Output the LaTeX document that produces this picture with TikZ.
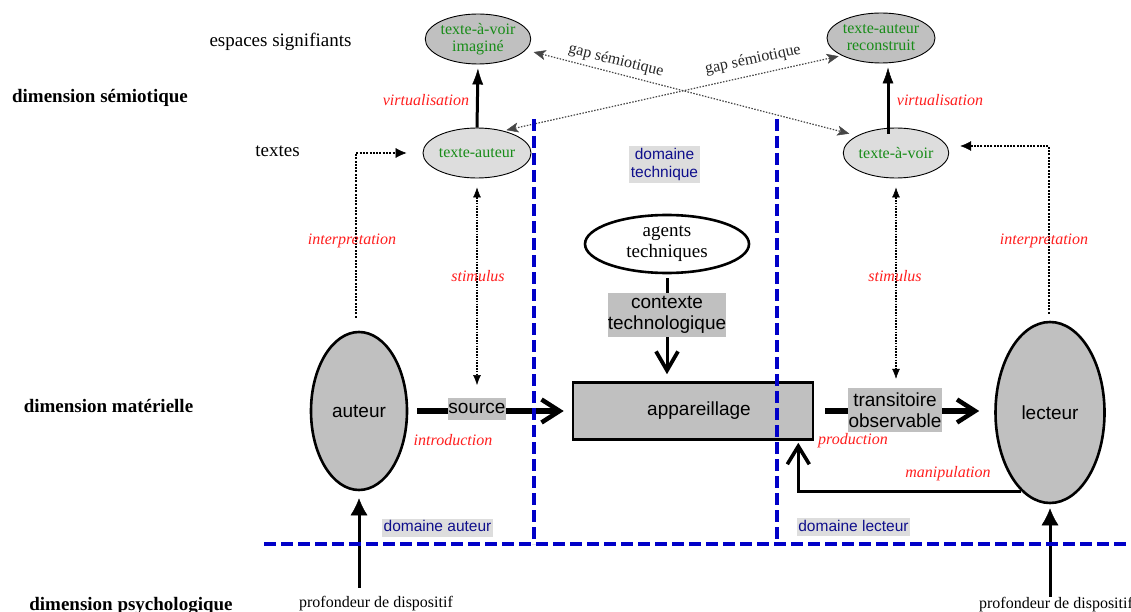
\documentclass[tikz,border=0pt]{standalone}
\usepackage{fontspec}
\setmainfont{Liberation Serif}
\setsansfont{Liberation Sans}
\usetikzlibrary{arrows.meta,shapes.geometric,calc}
\definecolor{fillA}{RGB}{192,192,192}
\definecolor{fillB}{RGB}{221,221,221}
\definecolor{txtgreen}{RGB}{24,140,24}
\definecolor{lblred}{RGB}{255,30,30}
\definecolor{dashblue}{RGB}{0,0,200}
\definecolor{navytext}{RGB}{15,15,140}
\definecolor{boxgray}{RGB}{221,221,221}
\definecolor{gapgray}{RGB}{70,70,70}
\begin{document}
\begin{tikzpicture}[x=1pt,y=-1pt,
 dimlabel/.style={font=\bfseries\fontsize{19}{22}\selectfont,inner sep=0,anchor=base},
 plainlabel/.style={font=\fontsize{19}{22}\selectfont,inner sep=0,anchor=base},
 proflabel/.style={font=\fontsize{16}{18}\selectfont,inner sep=0,anchor=base},
 redlabel/.style={font=\itshape\fontsize{16}{18}\selectfont,text=lblred,inner sep=0},
 gaplabel/.style={font=\fontsize{16}{18}\selectfont,text=black!85,inner sep=0},
 semA/.style={ellipse,draw,line width=0.9pt,fill=fillA,inner sep=0,minimum width=96pt,minimum height=50pt,font=\fontsize{16}{17}\selectfont,text=txtgreen,align=center},
 semB/.style={semA,fill=fillB},
 actor/.style={ellipse,draw,line width=2.6pt,fill=fillA,inner sep=0,font=\sffamily\fontsize{19}{21}\selectfont},
 graybox/.style={fill=fillA,inner sep=0,font=\sffamily\fontsize{19}{21}\selectfont,align=center},
 domlbl/.style={fill=boxgray,text=navytext,inner xsep=1.5pt,inner ysep=1.5pt,font=\sffamily\fontsize{15.5}{18}\selectfont,align=center,text height=11.5pt,text depth=3.5pt},
 domline/.style={color=dashblue,line width=3.5pt,dash pattern=on 12pt off 5pt},
 virtarrow/.style={line width=3pt,-{Latex[length=16pt,width=11pt,line width=0.5pt]}},
 profarrow/.style={line width=3pt,-{Latex[length=17pt,width=17pt,line width=0.5pt]}},
 bigarrow/.style={line width=5.5pt,-{Straight Barb[length=18pt,width=23pt,line width=4.5pt]}},
 medarrow/.style={line width=3pt,-{Straight Barb[length=19pt,width=22pt,line width=3.8pt]}},
 maniparrow/.style={line width=2.6pt,-{Straight Barb[length=18pt,width=22pt,line width=3.6pt]}},
 interparrow/.style={line width=2pt,dash pattern=on 2pt off 1.3pt,-{Latex[length=11pt,width=10pt,line width=0.5pt]}},
 stimarrow/.style={line width=1.6pt,dash pattern=on 1.6pt off 1.2pt,{Latex[length=10pt,width=8pt,line width=0.5pt]}-{Latex[length=10pt,width=8pt,line width=0.5pt]}},
 gaparrow/.style={color=gapgray,line width=1.2pt,dash pattern=on 1.5pt off 1.5pt,{Stealth[length=12pt,width=10pt,inset=3pt,line width=0.5pt]}-{Stealth[length=12pt,width=10pt,inset=3pt,line width=0.5pt]}}
]
\useasboundingbox (0,0) rectangle (1131,612);

% left labels
\node[dimlabel] (dimSem) at (100,103) {dimension sémiotique};
\node[dimlabel] (dimMat) at (108.5,412) {dimension matérielle};
\node[dimlabel] (dimPsy) at (131,610) {dimension psychologique};
\node[plainlabel] (espaces) at (280.5,47) {espaces signifiants};
\node[plainlabel] (textes) at (277.5,157) {textes};

% semiotic nodes
\node[semA] (imagine) at (478,39) {texte-à-voir\\imaginé};
\node[semA,minimum width=95pt] (reconstruit) at (881,38) {texte-auteur\\reconstruit};
\node[semB,minimum width=98pt] (texteAuteur) at (477,153) {texte-auteur};
\node[semB] (texteVoir) at (896,153) {texte-à-voir};

% actors
\node[actor,minimum width=96pt,minimum height=158pt] (auteur) at (359,411) {auteur};
\node[actor,minimum width=109pt,minimum height=181pt] (lecteur) at (1050,412.5) {lecteur};

% technical domain
\node[rectangle,draw,line width=2.6pt,fill=fillA,minimum width=240pt,minimum height=57pt,inner sep=0,font=\sffamily\fontsize{19}{21}\selectfont] (appareillage) at (693,411) {\hspace*{12pt}appareillage};
\node[ellipse,draw,line width=2.6pt,fill=white,minimum width=164pt,minimum height=58pt,inner sep=0,align=center,font=\fontsize{19}{21}\selectfont] (agents) at (667,244) {agents\\techniques};
\node[graybox,minimum width=118pt,minimum height=44pt] (contexte) at (667,315) {contexte\\technologique};

% connectors semiotic
\draw[virtarrow,shorten >=4pt] (texteAuteur.north) -- (imagine.south);
\draw[virtarrow,shorten <=-6pt,shorten >=4pt] ([xshift=-8pt]texteVoir.north) -- ([xshift=-8pt]texteVoir.north |- reconstruit.south);
\draw[gaparrow,shorten <=8pt,shorten >=8pt] (imagine.-13) -- (texteVoir.156);
\draw[gaparrow,shorten <=3pt,shorten >=3pt] (texteAuteur.40) -- (reconstruit.204);
\node[gaplabel,rotate=-14] (gap1) at (616,61) {gap sémiotique};
\node[gaplabel,rotate=12] (gap2) at (753,60) {gap sémiotique};

% interpretation
\draw[interparrow,shorten >=16pt] ([shift={(-3,-13)}]auteur.north) |- (texteAuteur.west);
\draw[interparrow,shorten >=11pt] ([shift={(-1,-7)}]lecteur.north) |- ([yshift=7pt]texteVoir.east);

% main arrows
\draw[bigarrow,shorten <=9pt,shorten >=8pt] (auteur.east) -- (auteur.east -| appareillage.west);
\node[graybox,text height=14pt,text depth=4.5pt,inner ysep=1.5pt,inner xsep=0.5pt] (source) at (477,409) {source};
\draw[bigarrow,shorten <=11pt,shorten >=15pt] (appareillage.east) -- (appareillage.east -| lecteur.west);
\node[graybox,minimum width=94pt,minimum height=44pt] (transitoire) at (895,410) {transitoire\\observable};

\draw[line width=3pt,shorten <=4pt] (agents.south) -- (contexte.north);
\draw[medarrow,shorten >=7pt] (contexte.south) -- (contexte.south |- appareillage.north);
\draw[maniparrow,shorten >=2pt] (lecteur.250) -| ([xshift=-16pt]appareillage.south east);

% stimulus
\draw[stimarrow,shorten <=9pt,shorten >=13pt] (texteAuteur.south) -- (texteAuteur.south |- source.north);
\draw[stimarrow,shorten <=9pt,shorten >=9pt] (texteVoir.south) -- (texteVoir.south |- transitoire.north);

% profondeur
\node[proflabel] (profL) at (376,607) {profondeur de dispositif};
\node[proflabel] (profR) at (1056,608) {profondeur de dispositif};
\draw[profarrow,shorten <=8pt,shorten >=7pt] (profL.north -| auteur.south) -- (auteur.south);
\draw[profarrow,shorten >=4pt] (profR.north -| lecteur.south) -- (lecteur.south);

% red labels
\node[redlabel] (virtL) at (426,100) {virtualisation};
\node[redlabel] (virtR) at (940,100) {virtualisation};
\node[redlabel] (interpL) at (352,241) {interpretation};
\node[redlabel] (interpR) at (1044,241) {interpretation};
\node[redlabel] (stimL) at (478,276) {stimulus};
\node[redlabel] (stimR) at (895,276) {stimulus};
\node[redlabel] (introL) at (453,440) {introduction};
\node[redlabel] (prodL) at (853,441) {production};
\node[redlabel] (manipL) at (948,474) {manipulation};

% domain labels
\node[domlbl,text height=,text depth=,minimum height=37pt] (domTech) at (664.5,164.5) {domaine\\technique};
\node[domlbl] (domAut) at (437.5,527.5) {domaine auteur};
\node[domlbl] (domLec) at (853.5,527) {domaine lecteur};

% blue dashed domain borders
\draw[domline] (534,119) -- (534,544);
\draw[domline] (777,119) -- (777,544);
\draw[domline] (264,544) -- (1131,544);
\end{tikzpicture}
\end{document}
